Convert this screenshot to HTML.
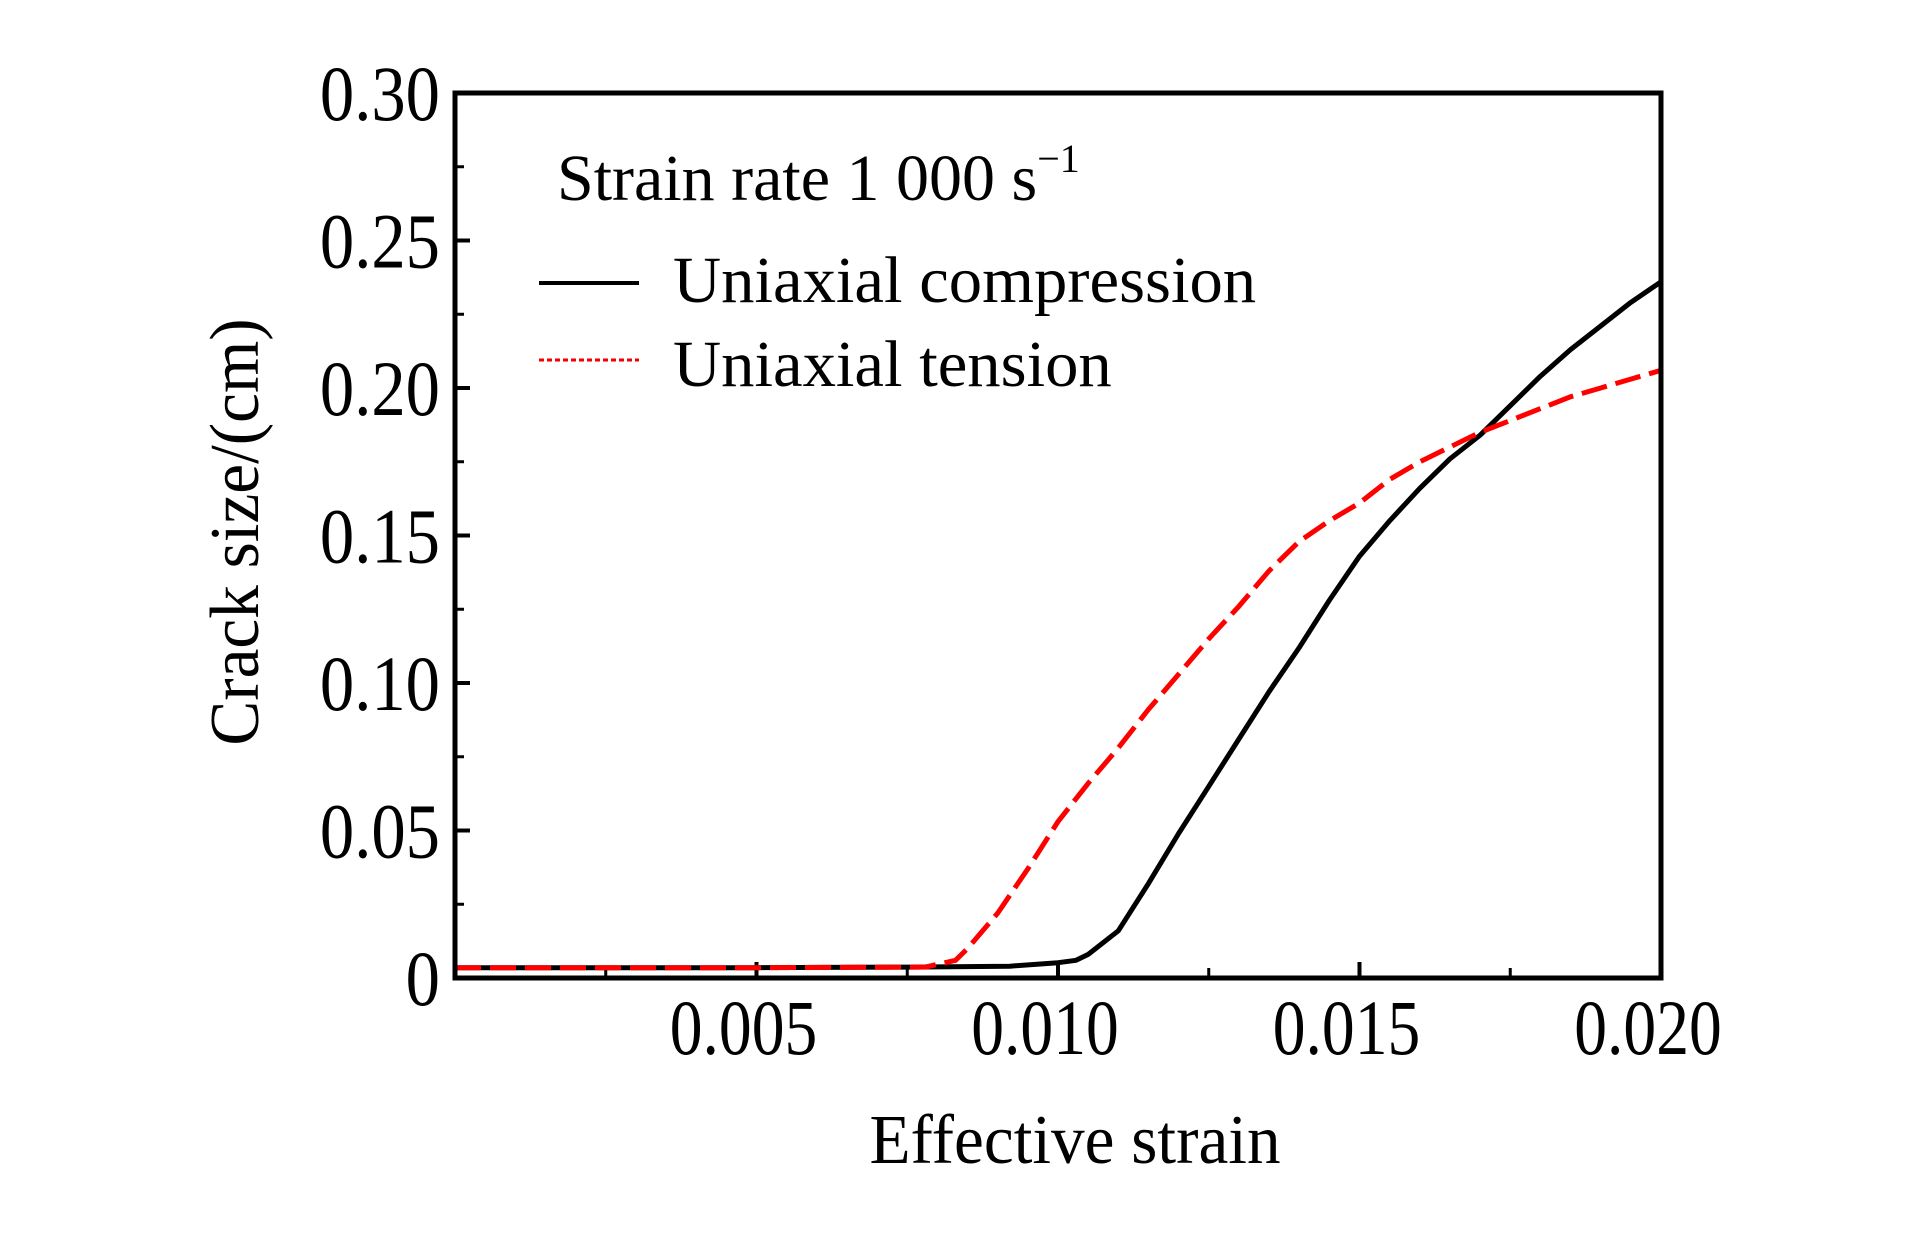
<!DOCTYPE html>
<html><head><meta charset="utf-8"><style>
html,body{margin:0;padding:0;background:#fff;width:1923px;height:1235px;overflow:hidden}
svg text{font-family:"Liberation Serif",serif;fill:#000}
</style></head><body>
<svg id="chart" width="1923" height="1235" xmlns="http://www.w3.org/2000/svg">
<g id="axes"></g>
<g id="series"></g>
<rect x="455" y="93" width="1206" height="885" fill="none" stroke="#000" stroke-width="5"/>
<text transform="translate(258,532) rotate(-90) scale(0.96,1)" text-anchor="middle" font-size="70">Crack size/(cm)</text>
<text transform="translate(1075,1163) scale(0.96,1)" text-anchor="middle" font-size="70">Effective strain</text>
<text transform="translate(557,200) scale(1.0,1)" font-size="66">Strain rate 1 000 s<tspan font-size="40" dy="-28">−1</tspan></text>
<line x1="539" y1="283" x2="639" y2="283" stroke="#000" stroke-width="4"/>
<text transform="translate(673,302) scale(1.01,1)" font-size="66">Uniaxial compression</text>
<line x1="539" y1="360" x2="639" y2="360" stroke="#e00" stroke-width="3" stroke-dasharray="5,3"/>
<text transform="translate(673,386) scale(1.01,1)" font-size="66">Uniaxial tension</text>
</svg>
<script>
const yTicks=[0,0.05,0.10,0.15,0.20,0.25,0.30];
const yTickLabels=["0","0.05","0.10","0.15","0.20","0.25","0.30"];
const xTicks=[0.005,0.010,0.015,0.020];
const xTickLabels=["0.005","0.010","0.015","0.020"];
const compX=[0,0.005,0.0075,0.0092,0.010,0.0103,0.0105,0.011,0.0115,0.012,0.0125,0.013,0.0135,0.014,0.0145,0.015,0.0155,0.016,0.0165,0.017,0.0175,0.018,0.0185,0.019,0.0195,0.020];
const compY=[0.0035,0.0035,0.0037,0.004,0.0052,0.006,0.008,0.016,0.032,0.049,0.065,0.081,0.097,0.112,0.128,0.143,0.155,0.166,0.176,0.184,0.194,0.204,0.213,0.221,0.229,0.236];
const tensX=[0,0.005,0.0078,0.0083,0.0085,0.009,0.0095,0.010,0.0105,0.011,0.0115,0.012,0.0125,0.013,0.0135,0.014,0.0145,0.015,0.0155,0.016,0.0165,0.017,0.0175,0.018,0.0185,0.019,0.0195,0.020];
const tensY=[0.0035,0.0035,0.0037,0.006,0.01,0.022,0.037,0.053,0.066,0.078,0.091,0.103,0.115,0.126,0.138,0.148,0.155,0.161,0.169,0.175,0.180,0.185,0.189,0.193,0.197,0.200,0.203,0.206];
const L=455,R=1661,T=93,B=978;
const xs=v=>L+(v/0.02)*(R-L);
const ys=v=>B-(v/0.30)*(B-T);
const NS="http://www.w3.org/2000/svg";
const axes=document.getElementById('axes'),ser=document.getElementById('series');
function mk(tag,attrs,parent){const e=document.createElementNS(NS,tag);for(const k in attrs)e.setAttribute(k,attrs[k]);parent.appendChild(e);return e;}
yTicks.forEach((v,i)=>{
  const y=ys(v);
  const t=mk('line',{x1:L,y1:y,x2:L+15,y2:y,stroke:'#000','stroke-width':4},axes);
  
  
  if(i<yTicks.length-1){const m=mk('line',{x1:L,y1:ys(v+0.025),x2:L+9,y2:ys(v+0.025),stroke:'#000','stroke-width':3},axes);
  
  }
  const tx=mk('text',{transform:`translate(440,${y+27}) scale(0.88,1)`,'text-anchor':'end','font-size':78},axes);
  tx.textContent=yTickLabels[i];
  
  
});
[0.0025,0.0075,0.0125,0.0175].forEach(v=>{
  const m=mk('line',{x1:xs(v),y1:B,x2:xs(v),y2:B-10,stroke:'#000','stroke-width':3},axes);
  
  
});
xTicks.forEach((v,i)=>{
  const x=xs(v);
  const t=mk('line',{x1:x,y1:B,x2:x,y2:B-16,stroke:'#000','stroke-width':4},axes);
  
  
  const tx=mk('text',{transform:`translate(${x-13},1054) scale(0.84,1)`,'text-anchor':'middle','font-size':78},axes);
  tx.textContent=xTickLabels[i];
  
  
});
const pts=(X,Y)=>X.map((x,i)=>xs(x).toFixed(1)+','+ys(Y[i]).toFixed(1)).join(' ');
const c=mk('polyline',{points:pts(compX,compY),fill:'none',stroke:'#000','stroke-width':5,'stroke-linejoin':'round'},ser);


const t=mk('polyline',{points:pts(tensX,tensY),fill:'none',stroke:'#f00','stroke-width':5,'stroke-dasharray':'26,9'},ser);


</script>
</body></html>
